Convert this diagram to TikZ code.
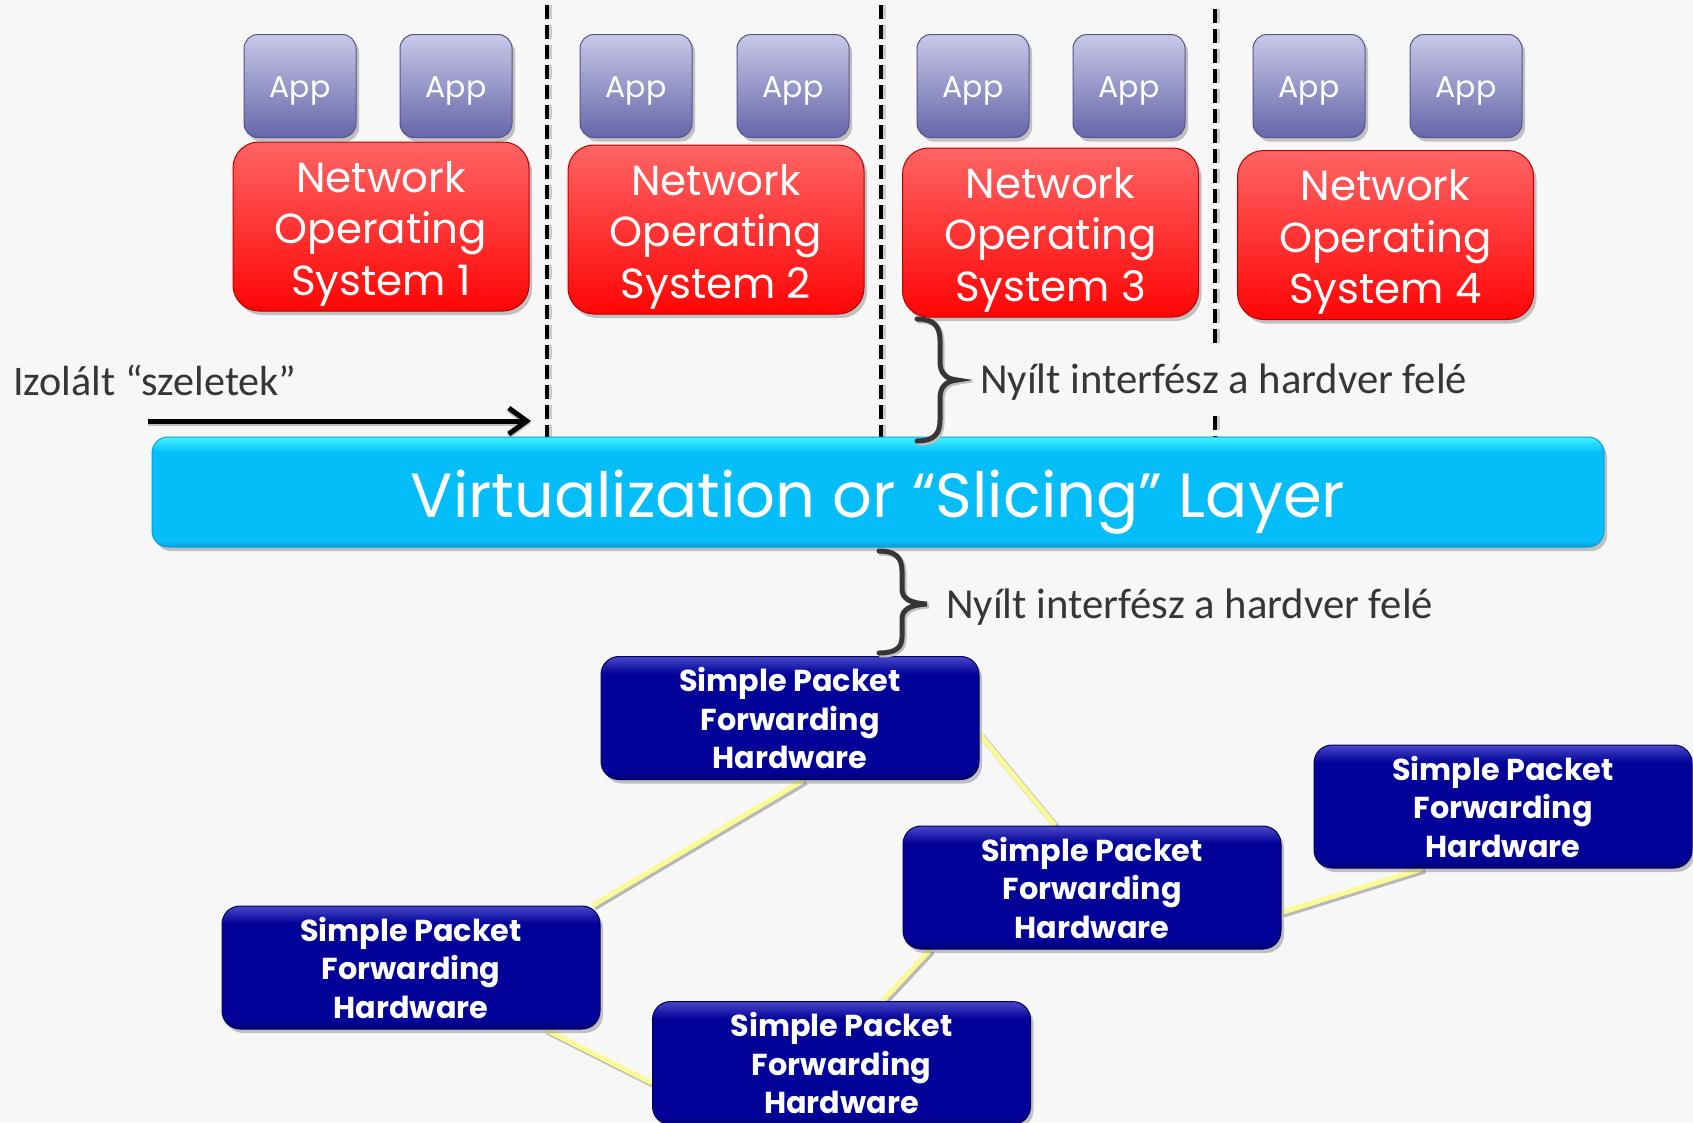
\documentclass[tikz,border=0pt]{standalone}
\usepackage{fontspec}
\setmainfont{Carlito}
\newfontfamily\gothic{Poppins}
\usetikzlibrary{arrows.meta,shadows,backgrounds}
\definecolor{bgc}{HTML}{F7F7F7}
\definecolor{appTop}{HTML}{C8C8E8}
\definecolor{appBot}{HTML}{6666AA}
\definecolor{appLine}{HTML}{55558F}
\definecolor{nosTop}{HTML}{FF6464}
\definecolor{nosBot}{HTML}{FF0505}
\definecolor{nosLine}{HTML}{B80000}
\definecolor{vlTop}{HTML}{40F4FF}
\definecolor{vlMain}{HTML}{05BDF9}
\definecolor{vlBot}{HTML}{0A9FD6}
\definecolor{hwTop}{HTML}{4848C8}
\definecolor{hwMain}{HTML}{020299}
\definecolor{hwBot}{HTML}{00007A}
\definecolor{hwLine}{HTML}{00005A}
\definecolor{wire}{HTML}{FAFA96}
\definecolor{wireSh}{HTML}{B8B8B8}
\definecolor{txt}{HTML}{363636}
\pgfdeclareverticalshading{vlshade}{100bp}{color(0bp)=(vlBot); color(25bp)=(vlBot); color(28bp)=(vlMain); color(68bp)=(vlMain); color(75bp)=(vlTop); color(100bp)=(vlTop)}
\pgfdeclareverticalshading{hwshade}{100bp}{color(0bp)=(hwBot); color(25bp)=(hwBot); color(29bp)=(hwMain); color(68bp)=(hwMain); color(75bp)=(hwTop); color(100bp)=(hwTop)}
\pgfdeclarelayer{bgfill}
\pgfsetlayers{bgfill,background,main}
\begin{document}
\begin{tikzpicture}[x=1pt,y=-1pt,
  shadowed/.style={drop shadow={shadow xshift=3pt,shadow yshift=-4pt,opacity=0.22,fill=black}},
  app/.style={rectangle, rounded corners=14pt, minimum width=112pt, minimum height=103pt, inner sep=0pt,
    top color=appTop, bottom color=appBot, draw=appLine, line width=1pt, shadowed,
    text=white, font=\gothic\fontsize{30}{36}\selectfont, text height=22pt, text depth=0pt},
  nos/.style={rectangle, rounded corners=26pt, minimum width=296pt, minimum height=169pt, inner sep=0pt,
    top color=nosTop, bottom color=nosBot, draw=nosLine, line width=1pt, shadowed},
  nostext/.style={text=white, align=center, inner sep=0pt, font=\gothic\fontsize{42}{51.5}\selectfont},
  vlayer/.style={rectangle, rounded corners=16pt, minimum width=1452pt, minimum height=110pt, inner sep=0pt,
    shade, shading=vlshade, draw=vlBot, line width=1pt, shadowed,
    text=white, font=\gothic\fontsize{62.4}{70}\selectfont, text height=50pt, text depth=0pt},
  hw/.style={rectangle, rounded corners=18pt, minimum width=378pt, minimum height=123pt, inner sep=0pt,
    shade, shading=hwshade, draw=hwLine, line width=1pt, shadowed,
    text=white, align=center, font=\gothic\bfseries\fontsize{30.3}{38.5}\selectfont},
  dashv/.style={line width=4pt, black, dash pattern=on 14pt off 6pt},
  dashsh/.style={line width=4pt, black!20, dash pattern=on 14pt off 6pt},
  wiresh/.style={line width=6pt, wireSh},
  wirel/.style={line width=5pt, wire},
  lbl/.style={text=txt, inner sep=0pt, font=\fontsize{42.7}{50}\selectfont},
  bracel/.style={line width=5pt, txt, line cap=round},
  bracesh/.style={line width=5pt, black!25, line cap=round},
]
\begin{pgfonlayer}{bgfill}
\fill[bgc] (0,0) rectangle (1693,1122);
\end{pgfonlayer}
\useasboundingbox (0,0) rectangle (1693,1122);
\clip (0,0) rectangle (1693,1122);

% dashed separators
\coordinate (d1t) at (547,5);   \coordinate (d1b) at (547,437);
\coordinate (d2t) at (881,5);   \coordinate (d2b) at (881,437);
\coordinate (d3t) at (1215,9);  \coordinate (d3m) at (1215,343);
\coordinate (d3n) at (1215,416); \coordinate (d3b) at (1215,437);
\foreach \a/\b in {d1t/d1b,d2t/d2b,d3t/d3m,d3n/d3b}{
  \draw[dashsh] ([xshift=3pt]\a) -- ([xshift=3pt]\b);
  \draw[dashv] (\a) -- (\b);
}

% arrow
\coordinate (arrS) at (148,421);
\coordinate (arrE) at (531,421);
\draw[line width=5pt, black!25, -{Straight Barb[length=18pt,width=26pt]}] ([yshift=-2pt]arrS) -- ([yshift=-2pt]arrE);
\draw[line width=5pt, black, -{Straight Barb[length=18pt,width=26pt]}] (arrS) -- (arrE);

% apps and network operating systems
\node[app] (a11) at (300,86) {App};
\node[app] (a12) at (456,86) {App};
\node[app] (a21) at (636,86) {App};
\node[app] (a22) at (793,86) {App};
\node[app] (a31) at (973,86) {App};
\node[app] (a32) at (1129,86) {App};
\node[app] (a41) at (1309,86) {App};
\node[app] (a42) at (1466,86) {App};

\node[nos] (n1) at (381,226.5) {};
\node[nos] (n2) at (716,229.5) {};
\node[nos] (n3) at (1050.5,232.5) {};
\node[nos] (n4) at (1385.5,235) {};
\node[nostext] (n1t) at ([yshift=-7pt]n1.center) {Network\\Operating\\System 1};
\node[nostext] (n2t) at ([yshift=-7pt]n2.center) {Network\\Operating\\System 2};
\node[nostext] (n3t) at ([yshift=-7pt]n3.center) {Network\\Operating\\System 3};
\node[nostext] (n4t) at ([yshift=-7pt]n4.center) {Network\\Operating\\System 4};

% virtualization layer
\node[vlayer] (vl) at (878,492) {Virtualization or “Slicing” Layer};

% hardware
\node[hw] (h1) at (790,718) {Simple Packet\\Forwarding\\Hardware};
\node[hw] (h2) at (1092,887.5) {Simple Packet\\Forwarding\\Hardware};
\node[hw] (h3) at (1503,806.5) {Simple Packet\\Forwarding\\Hardware};
\node[hw] (h4) at (411,967.5) {Simple Packet\\Forwarding\\Hardware};
\node[hw] (h5) at (841.5,1063) {Simple Packet\\Forwarding\\Hardware};

\coordinate (w1a) at ([xshift=14pt]h1.south);
\coordinate (w1b) at ([xshift=-8pt]h4.north east);
\coordinate (w2a) at ([yshift=-16pt]h1.east);
\coordinate (w2b) at ([xshift=-37pt]h2.north);
\coordinate (w3a) at ([yshift=-25pt]h2.east);
\coordinate (w3b) at ([xshift=-80pt]h3.south);
\coordinate (w4a) at ([xshift=28pt]h2.south west);
\coordinate (w4b) at ([xshift=41pt]h5.north);
\coordinate (w5a) at ([xshift=-55pt]h4.south east);
\coordinate (w5b) at ([yshift=-20pt]h5.west);

\begin{pgfonlayer}{background}
\foreach \p/\q in {w1a/w1b,w2a/w2b,w3a/w3b,w4a/w4b,w5a/w5b}{
  \draw[wiresh] ([xshift=2pt,yshift=-2pt]\p) -- ([xshift=2pt,yshift=-2pt]\q);
  \draw[wirel] (\p) -- (\q);
}
\end{pgfonlayer}

% braces
\draw[bracesh] (919,321) .. controls (936,321) and (942,328) .. (942,343) -- (942,364) .. controls (942,375) and (948,381) .. (959,382) .. controls (948,383) and (942,389) .. (942,400) -- (942,422) .. controls (942,436) and (936,443) .. (919,443);
\draw[bracel] (917,319) .. controls (934,319) and (940,326) .. (940,341) -- (940,362) .. controls (940,373) and (946,379) .. (957,380) .. controls (946,381) and (940,387) .. (940,398) -- (940,420) .. controls (940,434) and (934,441) .. (917,441);
\draw[bracesh] (881,553) .. controls (897,553) and (904,559) .. (904,573) -- (904,591) .. controls (904,600) and (911,605) .. (929,606) .. controls (911,607) and (904,612) .. (904,621) -- (904,639) .. controls (904,650) and (897,655) .. (881,655);
\draw[bracel] (879,551) .. controls (895,551) and (902,557) .. (902,571) -- (902,589) .. controls (902,598) and (909,603) .. (927,604) .. controls (909,605) and (902,610) .. (902,619) -- (902,637) .. controls (902,648) and (895,653) .. (879,653);

% labels
\node[lbl, anchor=base west, font=\fontsize{42.2}{50}\selectfont] (iz) at (13,395) {Izolált “szeletek”};
\node[lbl, anchor=base west] (ny1) at (980,393) {Nyílt interfész a hardver felé};
\node[lbl, anchor=base west] (ny2) at (946,618) {Nyílt interfész a hardver felé};
\end{tikzpicture}
\end{document}
